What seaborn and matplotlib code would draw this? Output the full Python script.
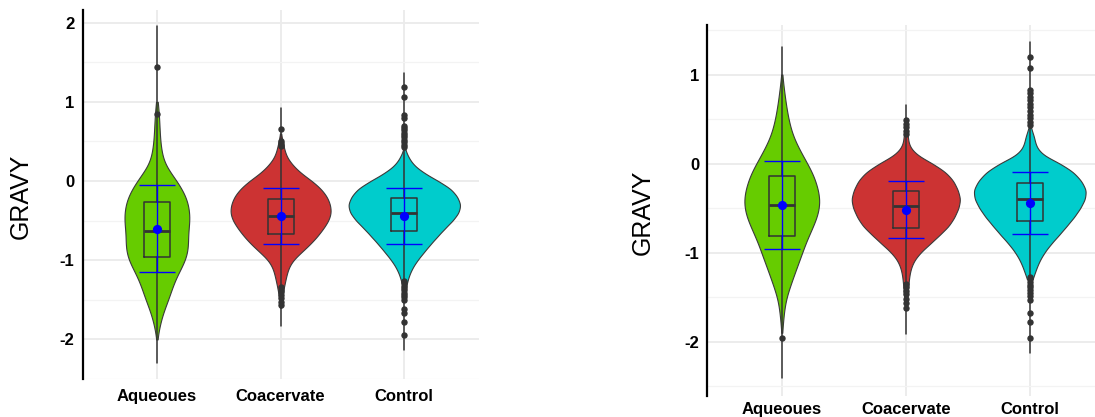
import numpy as np
import pandas as pd
import matplotlib
matplotlib.use("Agg")
import matplotlib.pyplot as plt
import seaborn as sns

groups = ["Aqueoues", "Coacervate", "Control"]
palette = ["#66CC00", "#CC3333", "#00CCCC"]

# Violin profiles: counts on a 0.1-step GRAVY grid, listed from the top level downwards
left_tops = [1.0, 0.6, 0.4]
left_counts = [
    [2, 5, 6, 7, 8, 9, 12, 15, 22, 38, 55, 68, 80, 86, 89, 90, 86, 84, 86, 84,
     78, 66, 54, 45, 38, 31, 22, 14, 9, 4, 1],
    [1, 6, 11, 18, 36, 60, 95, 122, 140, 149, 152, 144, 128, 110, 88, 62, 36,
     23, 17, 12, 7, 4, 2],
    [2, 12, 27, 58, 100, 138, 156, 166, 160, 142, 118, 97, 76, 57, 38, 23, 13, 7, 2],
]
right_tops = [1.0, 0.5, 0.4]
right_counts = [
    [1, 4, 7, 10, 14, 18, 24, 31, 43, 56, 70, 84, 93, 100, 105, 103, 97, 86, 75,
     64, 56, 47, 38, 29, 21, 12, 8, 5, 3, 1],
    [1, 4, 6, 9, 30, 80, 120, 142, 154, 162, 156, 144, 128, 100, 72, 42, 22, 13,
     9, 7, 5, 2],
    [3, 13, 17, 35, 90, 130, 152, 166, 162, 148, 130, 108, 86, 62, 42, 27, 17, 8],
]

# Box summaries, range lines, mean and standard deviation
left_q1 = [-0.96, -0.67, -0.63]
left_med = [-0.63, -0.44, -0.40]
left_q3 = [-0.26, -0.23, -0.22]
left_lo = [-2.30, -1.83, -2.13]
left_hi = [1.96, 0.92, 1.37]
left_mean = [-0.60, -0.44, -0.44]
left_sd = [0.545, 0.35, 0.355]
left_outliers = [
    [1.44, 0.85],
    [0.66, 0.50, 0.48, 0.46, 0.44, -1.34, -1.37, -1.40, -1.44, -1.48, -1.53, -1.57],
    [1.19, 1.06, 0.84, 0.80, 0.70, 0.67, 0.64, 0.61, 0.58, 0.55, 0.52, 0.49, 0.46,
     0.43, -1.26, -1.29, -1.32, -1.35, -1.38, -1.41, -1.44, -1.47, -1.50, -1.61,
     -1.67, -1.78, -1.94],
]

right_q1 = [-0.81, -0.72, -0.64]
right_med = [-0.47, -0.48, -0.40]
right_q3 = [-0.14, -0.31, -0.22]
right_lo = [-2.41, -1.91, -2.13]
right_hi = [1.31, 0.66, 1.37]
right_mean = [-0.465, -0.52, -0.44]
right_sd = [0.495, 0.32, 0.35]
right_outliers = [
    [-1.96],
    [0.49, 0.45, 0.41, 0.37, 0.33, -1.35, -1.39, -1.43, -1.47, -1.52, -1.57, -1.62],
    [1.20, 1.07, 0.83, 0.79, 0.75, 0.71, 0.67, 0.63, 0.59, 0.55, 0.51, 0.47, 0.43,
     -1.27, -1.30, -1.33, -1.36, -1.39, -1.42, -1.45, -1.49, -1.53, -1.68, -1.78,
     -1.96],
]

sns.set_theme(style="white")
plt.rcParams["font.family"] = ["Liberation Sans", "DejaVu Sans"]
plt.rcParams["axes.unicode_minus"] = False

DARK = "#333333"


def expand(tops, counts):
    rows = []
    for g, top, cnt in zip(groups, tops, counts):
        levels = [round(top - 0.1 * i, 2) for i in range(len(cnt))]
        vals = np.repeat(levels, cnt)
        rows.append(pd.DataFrame({"group": g, "gravy": vals}))
    return pd.concat(rows, ignore_index=True)


def draw_panel(ax, tops, counts, q1, med, q3, lo, hi, mean, sd, outliers,
               ylim, yticks, xpad):
    df = expand(tops, counts)
    sns.violinplot(data=df, x="group", y="gravy", order=groups, hue="group",
                   hue_order=groups, palette=palette, legend=False, cut=0,
                   inner=None, density_norm="area", common_norm=True,
                   width=0.9, saturation=1, linecolor="#3A3A3A", linewidth=0.8,
                   bw_adjust=0.82, ax=ax)
    stats = []
    for i in range(len(groups)):
        stats.append(dict(med=med[i], q1=q1[i], q3=q3[i], whislo=lo[i],
                          whishi=hi[i], fliers=outliers[i]))
    ax.bxp(stats, positions=range(len(groups)), widths=0.21, showcaps=False,
           showfliers=True, manage_ticks=False,
           boxprops=dict(color=DARK, lw=1.1),
           medianprops=dict(color=DARK, lw=2.0),
           whiskerprops=dict(color=DARK, lw=1.1),
           flierprops=dict(marker="o", markerfacecolor=DARK,
                           markeredgecolor=DARK, markersize=3.6))
    for c in ax.lines:
        c.set_zorder(3)
    ax.errorbar(range(len(groups)), mean, yerr=sd, fmt="o", color="#0000FF",
                markersize=5.6, elinewidth=1.0, capsize=13, capthick=1.0,
                zorder=4)

    ax.set_xlim(-0.6, 2.6)
    ax.set_ylim(*ylim)
    ax.set_yticks(yticks)
    ax.set_yticklabels([str(t) for t in yticks])
    ax.set_yticks(np.arange(np.ceil(ylim[0] * 2) / 2, ylim[1], 0.5), minor=True)
    ax.set_xticks(range(len(groups)))
    ax.set_xticklabels(groups)
    ax.grid(True, which="major", color="#EBEBEB", lw=1.3)
    ax.grid(True, which="minor", axis="y", color="#F3F3F3", lw=0.9)
    ax.set_axisbelow(True)
    for s in ["top", "right", "bottom"]:
        ax.spines[s].set_visible(False)
    ax.spines["left"].set_color("black")
    ax.spines["left"].set_linewidth(1.6)
    ax.tick_params(axis="both", which="both", length=0, labelsize=12,
                   labelcolor="black")
    ax.tick_params(axis="y", pad=6)
    ax.tick_params(axis="x", pad=xpad)
    for lbl in ax.get_xticklabels() + ax.get_yticklabels():
        lbl.set_fontweight("bold")
    ax.set_xlabel("")
    ax.set_ylabel("GRAVY", fontsize=18, color="black")


fig = plt.figure(figsize=(10.95, 4.17), dpi=100)
ax1 = fig.add_axes([0.0755, 0.0911, 0.3615, 0.885])
ax2 = fig.add_axes([0.646, 0.0504, 0.3624, 0.890])

draw_panel(ax1, left_tops, left_counts, left_q1, left_med, left_q3, left_lo,
           left_hi, left_mean, left_sd, left_outliers, (-2.5, 2.16),
           [-2, -1, 0, 1, 2], 7)
draw_panel(ax2, right_tops, right_counts, right_q1, right_med, right_q3,
           right_lo, right_hi, right_mean, right_sd, right_outliers,
           (-2.61, 1.558), [-2, -1, 0, 1], 4.5)

ax1.yaxis.set_label_coords(-0.125, 0.495)
ax2.yaxis.set_label_coords(-0.132, 0.496)

fig.savefig("out.png", dpi=100)
